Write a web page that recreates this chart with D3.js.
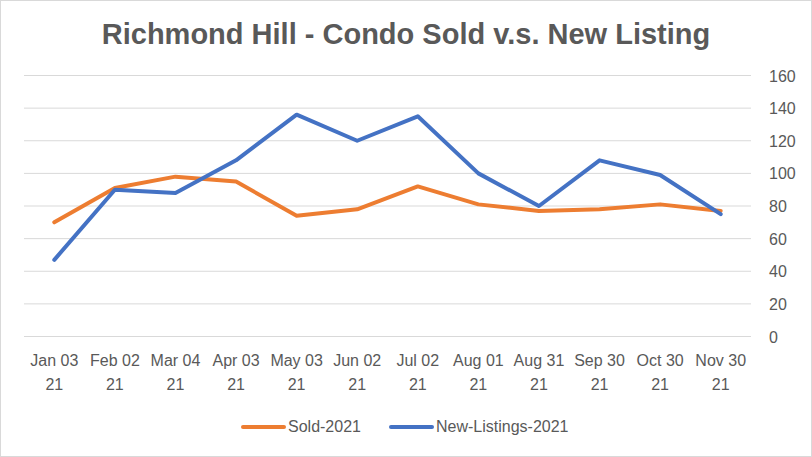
<!DOCTYPE html>
<html>
<head>
<meta charset="utf-8">
<script src="https://cdn.jsdelivr.net/npm/d3@7"></script>
<style>
  body { margin: 0; background: #fff; }
  text { font-family: "Liberation Sans", Arial, sans-serif; fill: #595959; }
</style>
</head>
<body>
<script>
// data
var dates = ["Jan 03", "Feb 02", "Mar 04", "Apr 03", "May 03", "Jun 02",
             "Jul 02", "Aug 01", "Aug 31", "Sep 30", "Oct 30", "Nov 30"];
var sold = [70, 91, 98, 95, 74, 78, 92, 81, 77, 78, 81, 77];
var newListings = [47, 90, 88, 108, 136, 120, 135, 100, 80, 108, 99, 75];
var yTicks = [0, 20, 40, 60, 80, 100, 120, 140, 160];

var W = 812, H = 457;
var margin = {left: 24, right: 61, top: 75.5, bottom: 120.5};

var svg = d3.select("body").append("svg").attr("width", W).attr("height", H);

// chart border
svg.append("rect")
    .attr("x", 0.5).attr("y", 0.5)
    .attr("width", W - 1).attr("height", H - 1)
    .attr("fill", "#fff")
    .attr("stroke", "#d9d9d9");

var x = d3.scaleBand().domain(dates).range([margin.left, W - margin.right]);
var y = d3.scaleLinear().domain([0, 160]).range([H - margin.bottom, margin.top]);

// gridlines
svg.append("g")
    .selectAll("line")
    .data(yTicks)
    .enter().append("line")
    .attr("x1", margin.left).attr("x2", W - margin.right)
    .attr("y1", function(d) { return y(d); })
    .attr("y2", function(d) { return y(d); })
    .attr("stroke", "#d9d9d9")
    .attr("stroke-width", 1);

// right axis labels
var yAxis = d3.axisRight(y).tickValues(yTicks).tickSize(0).tickPadding(0);
var ya = svg.append("g")
    .attr("transform", "translate(769,0)")
    .call(yAxis);
ya.select(".domain").remove();
ya.selectAll("text")
    .style("font-size", "16px")
    .attr("dy", "0.35em")
    .attr("fill", "#595959");

// x labels (two lines)
var xa = svg.append("g");
xa.selectAll("text")
    .data(dates)
    .enter().append("text")
    .attr("x", function(d) { return x(d) + x.bandwidth() / 2; })
    .attr("y", 366)
    .attr("text-anchor", "middle")
    .style("font-size", "16px")
    .each(function(d) {
        d3.select(this).append("tspan").attr("x", x(d) + x.bandwidth() / 2).text(d);
        d3.select(this).append("tspan").attr("x", x(d) + x.bandwidth() / 2).attr("dy", 24).text("21");
    });

var line = d3.line()
    .x(function(d, i) { return x(dates[i]) + x.bandwidth() / 2; })
    .y(function(d) { return y(d); });

svg.append("path")
    .datum(sold)
    .attr("d", line)
    .attr("fill", "none")
    .attr("stroke", "#ED7D31")
    .attr("stroke-width", 4)
    .attr("stroke-linecap", "round")
    .attr("stroke-linejoin", "round");

svg.append("path")
    .datum(newListings)
    .attr("d", line)
    .attr("fill", "none")
    .attr("stroke", "#4472C4")
    .attr("stroke-width", 4)
    .attr("stroke-linecap", "round")
    .attr("stroke-linejoin", "round");

// title
svg.append("text")
    .attr("x", 406)
    .attr("y", 44)
    .attr("text-anchor", "middle")
    .style("font-size", "29px")
    .style("font-weight", "bold")
    .text("Richmond Hill - Condo Sold v.s. New Listing");

// legend
var legend = [
    {name: "Sold-2021", color: "#ED7D31", x: 243},
    {name: "New-Listings-2021", color: "#4472C4", x: 391}
];
var lg = svg.append("g").selectAll("g").data(legend).enter().append("g");
lg.append("line")
    .attr("x1", function(d) { return d.x; })
    .attr("x2", function(d) { return d.x + 41; })
    .attr("y1", 427).attr("y2", 427)
    .attr("stroke", function(d) { return d.color; })
    .attr("stroke-width", 4)
    .attr("stroke-linecap", "round");
lg.append("text")
    .attr("x", function(d) { return d.x + 45; })
    .attr("y", 432)
    .style("font-size", "16px")
    .text(function(d) { return d.name; });
</script>
</body>
</html>
